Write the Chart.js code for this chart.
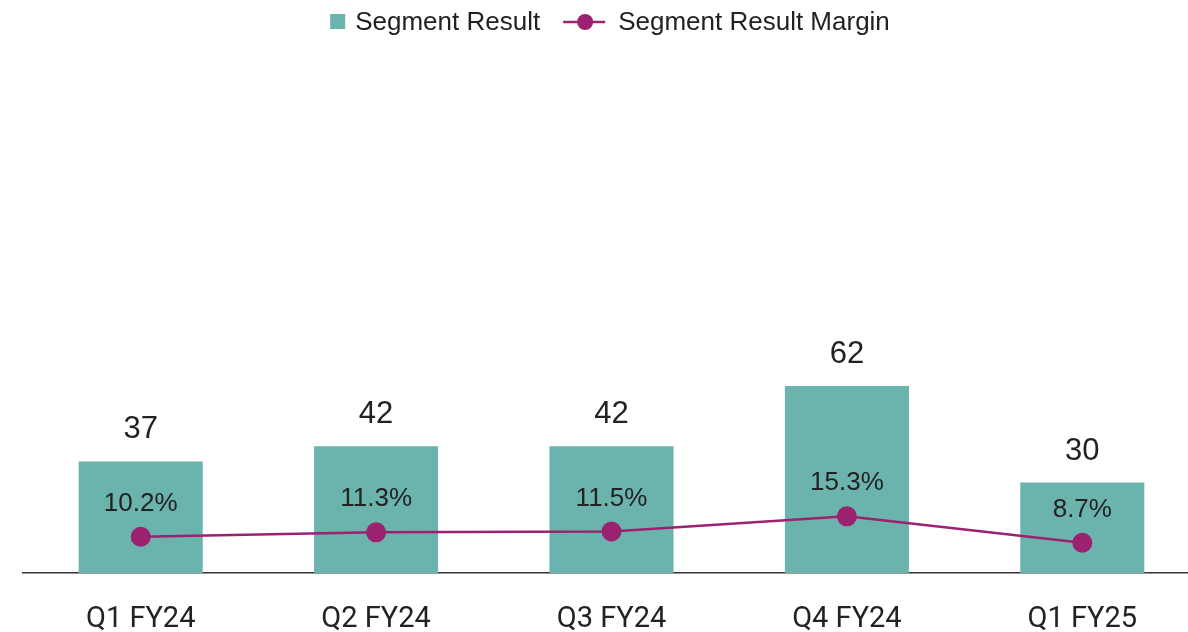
<!DOCTYPE html>
<html>
<head>
<meta charset="utf-8">
<script src="https://cdn.jsdelivr.net/npm/chart.js@4.4.1/dist/chart.umd.min.js"></script>
<style>
  html, body { margin: 0; padding: 0; background: #fff; overflow: hidden; }
  #wrap { width: 1188px; height: 632px; overflow: hidden; position: relative; }
  canvas { display: block; }
</style>
</head>
<body>
<div id="wrap"><canvas id="c" width="1220" height="632"></canvas></div>
<script>
const categories = ["Q1 FY24", "Q2 FY24", "Q3 FY24", "Q4 FY24", "Q1 FY25"];
const segmentResult = [37, 42, 42, 62, 30];
const segmentMargin = [10.2, 11.3, 11.5, 15.3, 8.7];
const seriesNames = ["Segment Result", "Segment Result Margin"];

const BAR_COLOR = "#6BB3AD";
const LINE_COLOR = "#9C2170";
const TEXT_COLOR = "#222222";
const LABEL_FONT = "'Liberation Sans', Arial, sans-serif";

const labelPlugin = {
  id: "valueLabels",
  afterDatasetsDraw(chart) {
    const ctx = chart.ctx;
    ctx.save();
    ctx.fillStyle = TEXT_COLOR;
    ctx.textAlign = "center";
    ctx.textBaseline = "alphabetic";
    const barMeta = chart.getDatasetMeta(1);
    ctx.font = "31px " + LABEL_FONT;
    barMeta.data.forEach((el, i) => {
      ctx.fillText(String(segmentResult[i]), el.x, el.y - 23);
    });
    const lineMeta = chart.getDatasetMeta(0);
    ctx.font = "26px " + LABEL_FONT;
    lineMeta.data.forEach((el, i) => {
      ctx.fillText(segmentMargin[i].toFixed(1) + "%", el.x, el.y - 26);
    });
    ctx.restore();
  }
};

const legendPlugin = {
  id: "customLegend",
  afterDraw(chart) {
    const ctx = chart.ctx;
    ctx.save();
    ctx.font = "26px " + LABEL_FONT;
    ctx.textBaseline = "middle";
    ctx.textAlign = "left";
    const cy = 22;
    const w1 = ctx.measureText(seriesNames[0]).width;
    const w2 = ctx.measureText(seriesNames[1]).width;
    const total = 15 + 10 + w1 + 23 + 42 + 13 + w2;
    let x = 610 - total / 2;
    ctx.fillStyle = BAR_COLOR;
    ctx.fillRect(x, cy - 8, 15, 15);
    x += 25;
    ctx.fillStyle = TEXT_COLOR;
    ctx.fillText(seriesNames[0], x, cy + 1);
    x += w1 + 23;
    ctx.strokeStyle = LINE_COLOR;
    ctx.lineWidth = 2.5;
    ctx.beginPath();
    ctx.moveTo(x, cy);
    ctx.lineTo(x + 42, cy);
    ctx.stroke();
    ctx.fillStyle = LINE_COLOR;
    ctx.beginPath();
    ctx.arc(x + 22, cy, 8, 0, Math.PI * 2);
    ctx.fill();
    x += 42 + 13;
    ctx.fillStyle = TEXT_COLOR;
    ctx.fillText(seriesNames[1], x, cy + 1);
    ctx.restore();
  }
};

new Chart(document.getElementById("c"), {
  data: {
    labels: categories,
    datasets: [
      {
        type: "line",
        label: seriesNames[1],
        data: segmentMargin,
        yAxisID: "y2",
        borderColor: LINE_COLOR,
        backgroundColor: LINE_COLOR,
        borderWidth: 2.5,
        pointRadius: 10,
        pointHoverRadius: 10,
        pointBackgroundColor: LINE_COLOR,
        pointBorderWidth: 0,
        tension: 0,
        order: 0
      },
      {
        type: "bar",
        label: seriesNames[0],
        data: segmentResult,
        yAxisID: "y",
        backgroundColor: BAR_COLOR,
        categoryPercentage: 1,
        barPercentage: 0.527,
        order: 1
      }
    ]
  },
  options: {
    responsive: false,
    animation: false,
    layout: { padding: { top: 50, left: 23, right: 20, bottom: 0 } },
    plugins: { legend: { display: false }, tooltip: { enabled: false } },
    scales: {
      x: {
        offset: true,
        grid: { display: false, drawTicks: false },
        border: { display: true, color: "#333333", width: 1.5 },
        ticks: {
          color: TEXT_COLOR,
          font: { family: "Roboto", size: 29 },
          padding: 29,
          maxRotation: 0
        },
        afterFit(scale) { scale.height = 59; }
      },
      y: { display: false, min: 0, max: 173.4 },
      y2: { display: false, min: 1.125, max: 131.9 }
    }
  },
  plugins: [labelPlugin, legendPlugin]
});
</script>
</body>
</html>
